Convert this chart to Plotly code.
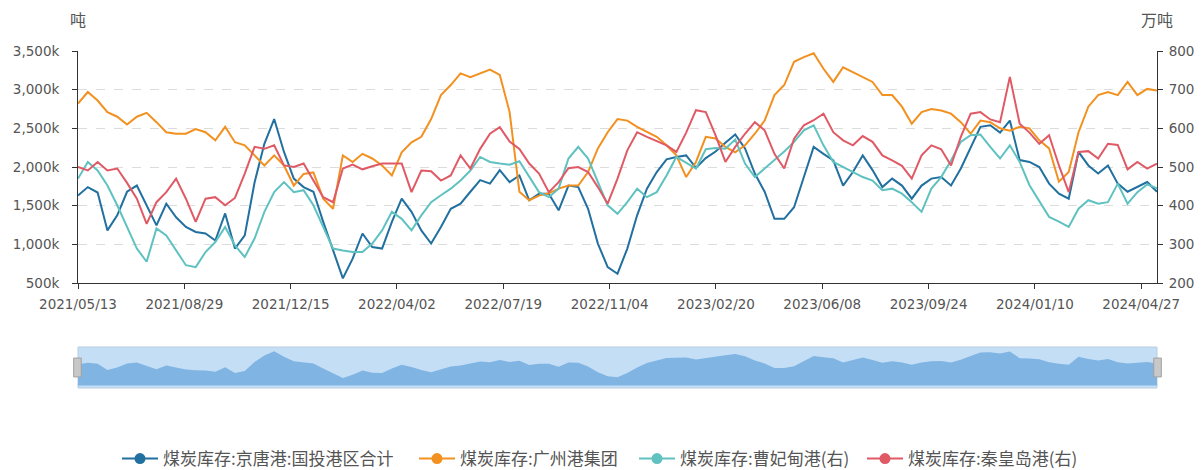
import pandas as pd
import plotly.graph_objects as go

start_date = "2021-05-13"
end_date = "2024-05-13"
n_points = 111
dates = pd.date_range(start_date, end_date, periods=n_points)

tick_dates = ["2021-05-13", "2021-08-29", "2021-12-15", "2022-04-02", "2022-07-19",
              "2022-11-04", "2023-02-20", "2023-06-08", "2023-09-24", "2024-01-10", "2024-04-27"]
tick_text = [d.replace("-", "/") for d in tick_dates]

names = ["煤炭库存:京唐港:国投港区合计", "煤炭库存:广州港集团", "煤炭库存:曹妃甸港(右)", "煤炭库存:秦皇岛港(右)"]
colors = ["#21709f", "#f29120", "#5fc2c0", "#e05a66"]

# thousand tonnes (left axis)
jingtang = [1630, 1740, 1670, 1180, 1375, 1680, 1760, 1500, 1245, 1525, 1350, 1225, 1160, 1140, 1050, 1400, 945, 1115, 1800, 2300, 2620, 2195, 1850, 1740, 1680, 1290, 920, 560,
            815, 1140, 965, 945, 1290, 1590, 1420, 1180, 1010, 1225, 1460, 1525, 1680, 1830, 1785, 1960, 1805, 1890, 1570, 1655, 1655, 1440, 1760, 1740, 1460, 1010, 705, 620,
            945, 1375, 1720, 1935, 2100, 2130, 2150, 1990, 2115, 2200, 2315, 2420, 2240, 1915, 1680, 1330, 1330, 1480, 1870, 2260, 2170, 2085, 1760, 1935, 2150, 1960, 1740,
            1850, 1760, 1590, 1760, 1850, 1870, 1760, 1980, 2260, 2520, 2540, 2445, 2600, 2090, 2065, 2000, 1785, 1655, 1590, 2195, 2020, 1915, 2020, 1785, 1680, 1740, 1805, 1680]
guangzhou = [2820, 2970, 2860, 2710, 2650, 2550, 2650, 2700, 2580, 2450, 2430, 2430, 2490, 2450, 2345, 2520, 2320, 2280, 2150, 2020, 2150, 2020, 1760, 1910, 1930, 1590, 1460, 2150,
             2065, 2170, 2110, 2020, 1890, 2190, 2320, 2390, 2620, 2930, 3060, 3210, 3160, 3210, 3260, 3190, 2710, 1680, 1570, 1630, 1660, 1720, 1760, 1760, 1935, 2240, 2450, 2620,
             2600, 2520, 2450, 2390, 2280, 2150, 1870, 2065, 2390, 2370, 2260, 2190, 2280, 2430, 2600, 2930, 3060, 3360, 3420, 3470, 3270, 3100, 3290, 3230, 3160, 3100, 2930,
             2930, 2780, 2560, 2710, 2750, 2730, 2690, 2580, 2430, 2600, 2580, 2500, 2470, 2520, 2500, 2345, 2240, 1810, 1935, 2450, 2780, 2930, 2970, 2930, 3100, 2930, 3010, 2990]
# 10k tonnes (right axis)
caofeidian = [470, 513, 491, 452, 401, 345, 289, 255, 341, 323, 284, 246, 241, 280, 306, 345, 297, 267, 315, 384, 435, 461, 435, 440, 401, 345, 289, 284,
              280, 280, 302, 336, 384, 366, 336, 375, 409, 427, 444, 465, 491, 526, 513, 509, 506, 515, 474, 435, 422, 444, 522, 552, 522, 461, 401, 379,
              409, 444, 422, 435, 478, 526, 511, 496, 546, 549, 547, 571, 509, 474, 496, 517, 540, 565, 595, 608, 556, 513, 500, 487, 474, 465, 440,
              444, 431, 409, 384, 444, 474, 517, 565, 582, 584, 552, 522, 556, 513, 453, 411, 371, 359, 345, 392, 414, 405, 409, 457, 405, 435, 455, 445]
qinhuangdao = [500, 491, 513, 491, 496, 459, 418, 353, 409, 435, 470, 418, 358, 418, 422, 401, 420, 483, 552, 547, 556, 504, 500, 509, 465, 422, 409, 496,
               506, 494, 502, 509, 509, 509, 435, 491, 489, 465, 478, 530, 496, 547, 586, 603, 566, 547, 509, 483, 435, 461, 497, 500, 487, 448, 405, 470,
               543, 590, 578, 566, 556, 539, 589, 647, 642, 582, 513, 552, 586, 616, 595, 534, 496, 573, 608, 621, 638, 590, 569, 556, 580, 565, 530,
               517, 503, 470, 530, 556, 546, 504, 578, 638, 642, 623, 616, 733, 612, 589, 560, 582, 504, 435, 539, 541, 522, 560, 557, 494, 513, 496, 509]

series = [jingtang, guangzhou, caofeidian, qinhuangdao]
axes = ["y", "y", "y2", "y2"]
legend_ids = ["legend", "legend2", "legend3", "legend4"]
legend_px = [117, 414, 634, 862]

fig = go.Figure()
for s, name, c, ax in zip(series, names, colors, axes):
    fig.add_trace(go.Scatter(x=dates, y=s, name=name, mode="lines", yaxis=ax, xaxis="x",
                             line=dict(color=c, width=2), showlegend=False, hoverinfo="skip"))
for name, c, lg in zip(names, colors, legend_ids):
    fig.add_trace(go.Scatter(x=[None], y=[None], name=name, mode="lines+markers", xaxis="x", yaxis="y",
                             line=dict(color=c, width=2), marker=dict(color=c, size=11), legend=lg))

# dataZoom shadow (first series)
fig.add_trace(go.Scatter(x=dates, y=jingtang, mode="lines", xaxis="x2", yaxis="y3", fill="tozeroy",
                         fillcolor="#7fb4e3", line=dict(width=0, color="#7fb4e3"), showlegend=False,
                         hoverinfo="skip"))

W, H = 1202, 470
T = 51
L, R = 78, 45
pw = W - L - R
ph = H - T
main_bottom = (H - 283) / ph
sl_bottom = (H - 388) / ph
sl_top = (H - 347) / ph

tickfont = dict(family="DejaVu Sans", size=13.5, color="#555")
cjk = "Noto Sans CJK SC"

legends = {}
for lg, px in zip(legend_ids, legend_px):
    legends[lg] = dict(orientation="h", x=(px - L) / pw, xanchor="left", y=(H - 459) / ph,
                       yanchor="middle", font=dict(family=cjk, size=17, color="#555"),
                       itemwidth=36, bgcolor="rgba(0,0,0,0)")

fig.update_layout(
    width=W, height=H,
    margin=dict(l=L, r=R, t=T, b=0, autoexpand=False),
    paper_bgcolor="white", plot_bgcolor="white",
    xaxis=dict(type="date", range=[start_date, end_date], domain=[0, 1], anchor="y",
               tickvals=tick_dates, ticktext=tick_text, ticks="outside", ticklen=5,
               tickcolor="#333", showline=True, linecolor="#333", linewidth=1,
               showgrid=False, zeroline=False, tickfont=tickfont, ticklabelstandoff=4),
    yaxis=dict(range=[500, 3500], dtick=500, domain=[main_bottom, 1], anchor="x",
               tickformat=",d", ticksuffix="k", ticks="outside", ticklen=5, tickcolor="#333",
               showline=True, linecolor="#333", linewidth=1, showgrid=True, gridcolor="#dcdcdc",
               griddash="dash", zeroline=False, tickfont=tickfont, ticklabelstandoff=10),
    yaxis2=dict(range=[200, 800], dtick=100, overlaying="y", side="right", anchor="x",
                ticks="outside", ticklen=5, tickcolor="#333", showline=True, linecolor="#333",
                linewidth=1, showgrid=False, zeroline=False, tickfont=tickfont, ticklabelstandoff=3),
    xaxis2=dict(type="date", range=[start_date, end_date], domain=[0, 1], anchor="y3",
                showticklabels=False, showgrid=False, zeroline=False, showline=False, ticks=""),
    yaxis3=dict(range=[-200, 2950], domain=[sl_bottom, sl_top], anchor="x2",
                showticklabels=False, showgrid=False, zeroline=False, showline=False, ticks=""),
    shapes=[
        dict(type="rect", xref="x2 domain", yref="y3 domain", x0=0, x1=1, y0=0, y1=1,
             fillcolor="#c4def5", line=dict(color="#b9cde0", width=1), layer="below"),
        dict(type="rect", xref="x2 domain", yref="y3 domain", x0=-0.004, x1=0.003, y0=0.27, y1=0.73,
             fillcolor="#c8c8c8", line=dict(color="#a0a0a0", width=1), layer="above"),
        dict(type="rect", xref="x2 domain", yref="y3 domain", x0=0.997, x1=1.004, y0=0.27, y1=0.73,
             fillcolor="#c8c8c8", line=dict(color="#a0a0a0", width=1), layer="above"),
    ],
    annotations=[
        dict(text="吨", xref="paper", yref="paper", x=0, y=(H - 18.5) / ph, xanchor="center",
             yanchor="middle", showarrow=False, font=dict(family=cjk, size=16, color="#555")),
        dict(text="万吨", xref="paper", yref="paper", x=1, y=(H - 18.5) / ph, xanchor="center",
             yanchor="middle", showarrow=False, font=dict(family=cjk, size=16, color="#555")),
    ],
    **legends,
)

fig.write_html("out.html", config={"displayModeBar": False},
               post_script="document.body.style.margin='0';")
